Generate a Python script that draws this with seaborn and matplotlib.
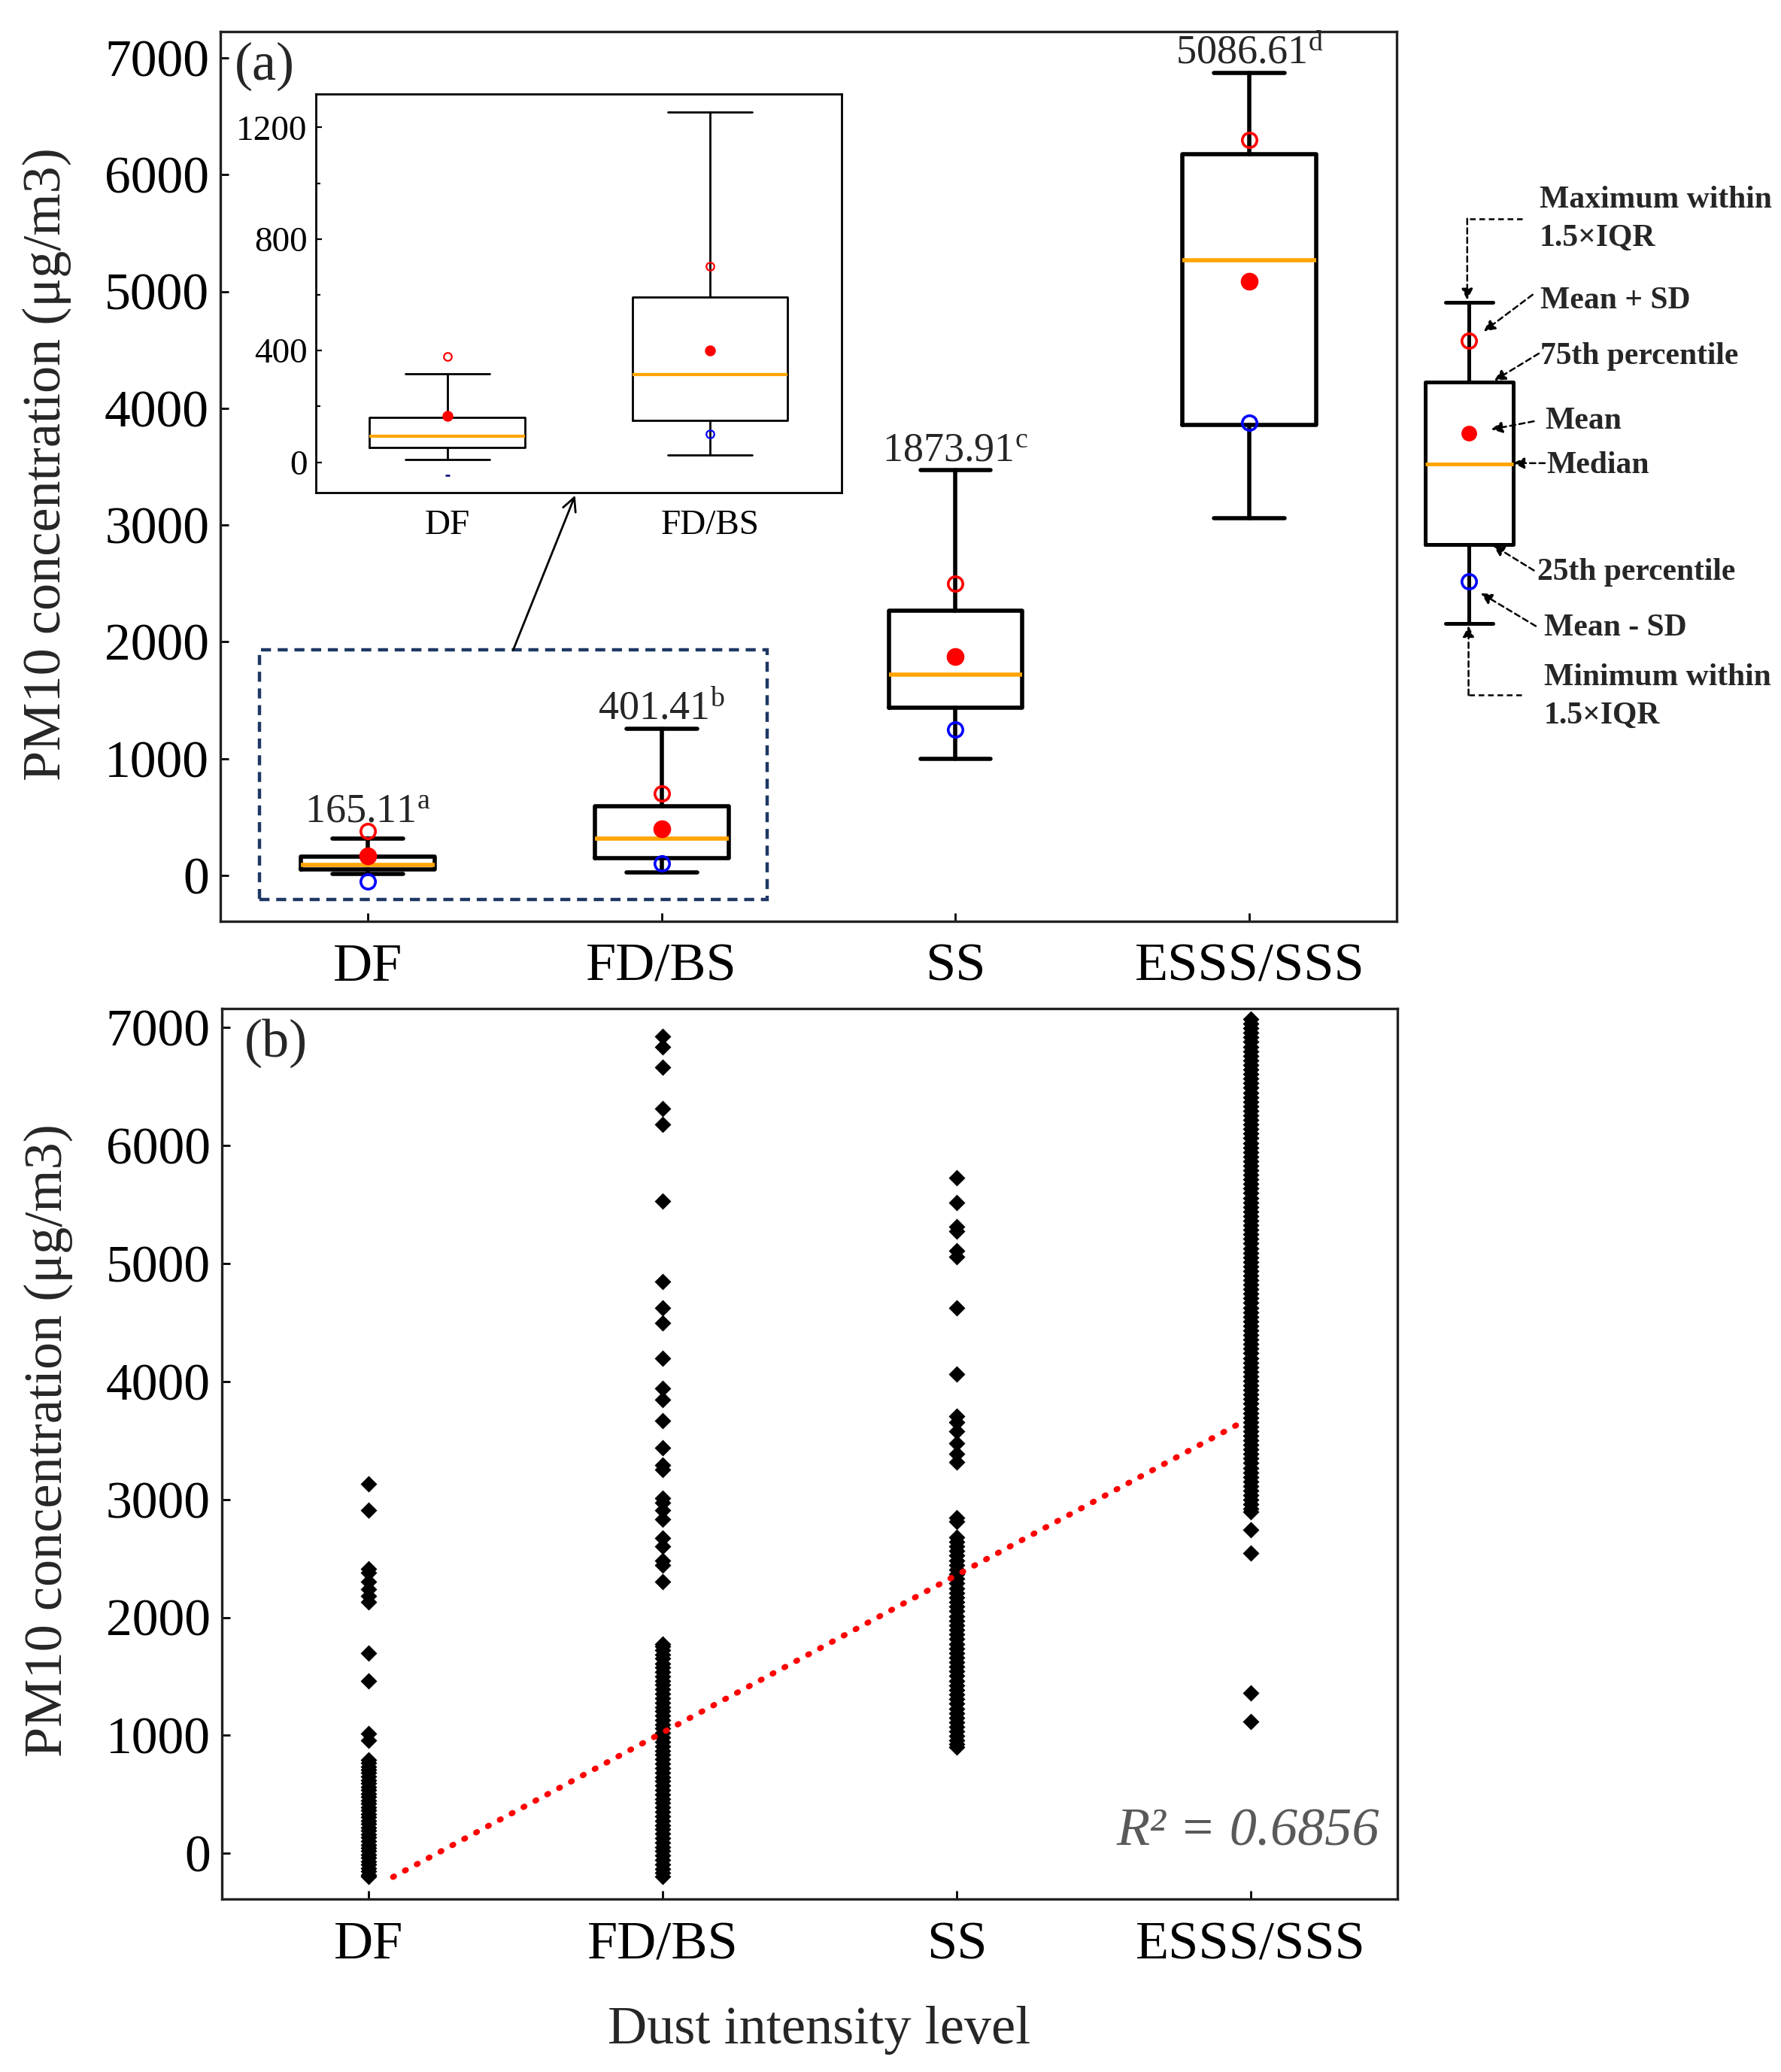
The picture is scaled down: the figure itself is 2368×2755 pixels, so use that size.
import matplotlib
matplotlib.use("Agg")
import matplotlib.pyplot as plt
from matplotlib.patches import Rectangle
import numpy as np
import pandas as pd
import seaborn as sns

# ---------------- data ----------------
categories = ["DF", "FD/BS", "SS", "ESSS/SSS"]
mean_vals = [165.11, 401.41, 1873.91, 5086.61]
mean_text = ["165.11", "401.41", "1873.91", "5086.61"]
sig_letters = ["a", "b", "c", "d"]
whis_lo = [10, 26, 1000, 3057]
q1_vals = [53, 148, 1435, 3858]
median_vals = [90, 315, 1722, 5265]
q3_vals = [160, 592, 2268, 6175]
whis_hi = [318, 1256, 3474, 6873]
sd_vals = [215, 300, 625, 1210]

df_points = [3133, 2909, 2411, 2377, 2304, 2240, 2182, 2133, 1698, 1462, 1017, 957,
             791, 766, 737, 709, 681, 650, 622, 594, 563, 537, 506, 478, 450, 421,
             390, 364, 333, 306, 275, 249, 218, 190, 161, 133, 104, 75, 47, 18,
             -10, -39, -67, -96, -124, -153, -181, -195]
fdbs_points = [6926, 6838, 6662, 6316, 6179, 5530, 4846, 4622, 4495, 4197, 3944,
               3846, 3670, 3436, 3290, 3255, 3011, 2972, 2909, 2831, 2675, 2606,
               2484, 2445, 2304,
               1777, 1758, 1722, 1684, 1650, 1611, 1574, 1538, 1501, 1463, 1427,
               1390, 1352, 1316, 1279, 1241, 1204, 1168, 1130, 1093, 1057, 1019,
               982, 946, 908, 871, 834, 797, 760, 722, 686, 648, 611, 575, 537,
               500, 463, 426, 389, 351, 315, 277, 240, 204, 166, 129, 92, 55, 18,
               -19, -56, -93, -130, -167, -195]
ss_points = [5730, 5520, 5315, 5276, 5110, 5061, 4622, 4061, 3704, 3656, 3582, 3475,
             3387, 3319, 2845, 2811,
             2679, 2641, 2603, 2562, 2524, 2484, 2446, 2405, 2367, 2327, 2288,
             2248, 2210, 2170, 2131, 2091, 2053, 2012, 1974, 1934, 1895, 1856,
             1817, 1777, 1739, 1699, 1660, 1621, 1582, 1542, 1504, 1464, 1425,
             1386, 1347, 1307, 1269, 1229, 1190, 1151, 1112, 1072, 1034, 995,
             956, 925, 898]
esss_points = [7072, 7034, 6995, 6957, 6917, 6879, 6840, 6801, 6762, 6723, 6684,
               6646, 6606, 6568, 6529, 6490, 6451, 6412, 6373, 6335, 6296, 6257,
               6218, 6179, 6141, 6101, 6063, 6024, 5985, 5946, 5907, 5869, 5830,
               5791, 5752, 5713, 5675, 5636, 5597, 5558, 5519, 5481, 5442, 5403,
               5364, 5325, 5287, 5248, 5209, 5170, 5131, 5093, 5054, 5015, 4976,
               4937, 4899, 4860, 4821, 4782, 4743, 4705, 4666, 4627, 4588, 4549,
               4511, 4472, 4433, 4394, 4355, 4317, 4278, 4239, 4200, 4161, 4123,
               4084, 4045, 4006, 3967, 3929, 3890, 3851, 3812, 3773, 3735, 3696,
               3657, 3618, 3579, 3541, 3502, 3463, 3424, 3385, 3347, 3308, 3269,
               3230, 3191, 3153, 3114, 3075, 3036, 2997, 2959, 2920, 2899,
               2743, 2548, 1362, 1118]

# inset (zoom of DF and FD/BS)
inset_categories = ["DF", "FD/BS"]
inset_whis_lo = [11, 26]
inset_q1 = [54, 150]
inset_median = [92, 314]
inset_q3 = [161, 591]
inset_whis_hi = [318, 1254]
inset_means = [165.11, 401.41]
inset_sd = [213, 301]

# linear trend of panel (b)
trend_intercept = -310
trend_slope = 1335
trend_x = [0.082, 2.97]
r_squared_text = "R\u00b2 = 0.6856"

# legend key (schematic) labels
key_labels = ["Maximum within\n1.5\u00d7IQR", "Mean + SD", "75th percentile", "Mean",
              "Median", "25th percentile", "Mean - SD", "Minimum within\n1.5\u00d7IQR"]

ylabel_text = "PM10 concentration (\u03bcg/m3)"

# ---------------- style ----------------
sns.set_theme(style="ticks")
plt.rcParams["font.family"] = ["Liberation Serif", "DejaVu Serif"]
plt.rcParams["mathtext.fontset"] = "custom"
plt.rcParams["mathtext.rm"] = "Liberation Serif"
plt.rcParams["mathtext.it"] = "Liberation Serif:italic"
plt.rcParams["mathtext.bf"] = "Liberation Serif:bold"
plt.rcParams["axes.edgecolor"] = "#222222"
plt.rcParams["axes.linewidth"] = 1.2
plt.rcParams["xtick.color"] = "black"
plt.rcParams["ytick.color"] = "black"

FS = 25
FSX = 26
ORANGE = "#FFA500"

fig = plt.figure(figsize=(2368 / 200, 2755 / 200), dpi=200)
fig.patch.set_facecolor("white")

ax1 = fig.add_axes([0.1239, 0.5555, 0.6602, 0.4292])
ax2 = fig.add_axes([0.1246, 0.0835, 0.6602, 0.4299])


def style_axis(ax):
    ax.tick_params(axis="both", which="both", direction="in", length=4, width=1.0,
                   top=False, right=False)
    ax.tick_params(axis="y", pad=5.5, labelsize=FS)
    ax.tick_params(axis="x", pad=10.5, labelsize=FSX)
    for s in ax.spines.values():
        s.set_visible(True)
        s.set_linewidth(1.2)
        s.set_color("#222222")


# ---------------- panel (a): box plots ----------------
stats = []
for i, c in enumerate(categories):
    stats.append(dict(label=c, whislo=whis_lo[i], q1=q1_vals[i], med=median_vals[i],
                      q3=q3_vals[i], whishi=whis_hi[i], fliers=[]))
pos = np.arange(len(categories))
ax1.bxp(stats, positions=pos, widths=0.455, capwidths=0.24, showfliers=False,
        manage_ticks=False,
        boxprops=dict(color="black", linewidth=2.0),
        whiskerprops=dict(color="black", linewidth=2.0),
        capprops=dict(color="black", linewidth=2.0),
        medianprops=dict(color=ORANGE, linewidth=2.0))
means = np.array(mean_vals)
sds = np.array(sd_vals)
ax1.plot(pos, means + sds, linestyle="none", marker="o", ms=7, mfc="none",
         mec="red", mew=1.3, zorder=5)
ax1.plot(pos, means - sds, linestyle="none", marker="o", ms=7, mfc="none",
         mec="blue", mew=1.3, zorder=5)
ax1.plot(pos, means, linestyle="none", marker="o", ms=7.5, color="red", zorder=6)

for i in range(len(categories)):
    top = max(whis_hi[i], mean_vals[i] + sd_vals[i])
    ax1.annotate(mean_text[i] + r"$^{\mathrm{" + sig_letters[i] + "}}$",
                 xy=(pos[i], top), xytext=(0, 4.5), textcoords="offset points",
                 ha="center", va="baseline", fontsize=19.5)

ax1.set_xlim(-0.5, 3.5)
ax1.set_ylim(-390, 7225)
ax1.set_yticks(np.arange(0, 7001, 1000))
ax1.set_xticks(pos)
ax1.set_xticklabels(categories)
style_axis(ax1)
ax1.set_ylabel(ylabel_text, fontsize=26)
ax1.yaxis.set_label_coords(-0.127, 0.514)
ax1.text(0.012, 0.961, "(a)", transform=ax1.transAxes, fontsize=FSX,
         ha="left", va="center")

# dashed zoom window and connector arrow
ax1.add_patch(Rectangle((-0.367, -205), 1.727, 2135, fill=False, linestyle=(0, (3, 2)),
                        edgecolor="#1F3864", linewidth=1.6, zorder=7))
ax1.annotate("", xy=(0.706, 3255), xytext=(0.495, 1930),
             arrowprops=dict(arrowstyle="->", color="black", lw=1.0,
                             shrinkA=0, shrinkB=0, mutation_scale=16), zorder=8)

# ---------------- inset ----------------
axin = fig.add_axes([0.1773, 0.7621, 0.2952, 0.1926])
istats = []
for i, c in enumerate(inset_categories):
    istats.append(dict(label=c, whislo=inset_whis_lo[i], q1=inset_q1[i],
                       med=inset_median[i], q3=inset_q3[i], whishi=inset_whis_hi[i],
                       fliers=[]))
ipos = np.arange(len(inset_categories))
axin.bxp(istats, positions=ipos, widths=0.59, capwidths=0.32, showfliers=False,
         manage_ticks=False,
         boxprops=dict(color="black", linewidth=1.0),
         whiskerprops=dict(color="black", linewidth=1.0),
         capprops=dict(color="black", linewidth=1.0),
         medianprops=dict(color=ORANGE, linewidth=1.5))
im = np.array(inset_means)
isd = np.array(inset_sd)
axin.plot(ipos, im + isd, linestyle="none", marker="o", ms=3.8, mfc="none",
          mec="red", mew=0.8, zorder=5)
# lower marks: DF's appears only as a tiny dash in the reference
axin.plot(ipos[:1], (im - isd)[:1], linestyle="none", marker="_", ms=2.5,
          mec="#000080", mew=0.9, zorder=5)
axin.plot(ipos[1:], (im - isd)[1:], linestyle="none", marker="o", ms=3.8, mfc="none",
          mec="blue", mew=0.8, zorder=5)
axin.plot(ipos, im, linestyle="none", marker="o", ms=4.2, color="red", zorder=6)
axin.set_xlim(-0.5, 1.5)
axin.set_ylim(-110, 1320)
axin.set_yticks([0, 400, 800, 1200])
axin.set_yticks([200, 600, 1000], minor=True)
axin.set_xticks(ipos)
axin.set_xticklabels(inset_categories)
axin.tick_params(axis="both", which="both", direction="in", labelsize=17,
                 top=False, right=False, width=0.8)
axin.tick_params(axis="y", which="major", length=3, pad=4)
axin.tick_params(axis="y", which="minor", length=2)
axin.tick_params(axis="x", length=0, pad=8)
for s in axin.spines.values():
    s.set_visible(True)
    s.set_linewidth(1.0)
    s.set_color("black")
axin.set_facecolor("white")

# ---------------- panel (b): scatter ----------------
long = pd.DataFrame({
    "level": (["DF"] * len(df_points) + ["FD/BS"] * len(fdbs_points)
              + ["SS"] * len(ss_points) + ["ESSS/SSS"] * len(esss_points)),
    "pm10": df_points + fdbs_points + ss_points + esss_points,
})
sns.stripplot(data=long, x="level", y="pm10", order=categories, jitter=False,
              marker="D", color="black", size=5.6, linewidth=0, ax=ax2, zorder=3)
tx = np.array(trend_x)
ax2.plot(tx, trend_intercept + trend_slope * tx, color="red", linewidth=2.8,
         linestyle=(0, (0.2, 2.1)), dash_capstyle="round", zorder=4)
ax2.set_xlim(-0.5, 3.5)
ax2.set_ylim(-387, 7165)
ax2.set_yticks(np.arange(0, 7001, 1000))
ax2.set_xticks(pos)
ax2.set_xticklabels(categories)
style_axis(ax2)
ax2.set_ylabel(ylabel_text, fontsize=26)
ax2.yaxis.set_label_coords(-0.127, 0.515)
ax2.set_xlabel("Dust intensity level", fontsize=26)
ax2.xaxis.set_label_coords(0.508, -0.12)
ax2.text(0.019, 0.961, "(b)", transform=ax2.transAxes, fontsize=FSX,
         ha="left", va="center")
ax2.text(0.984, 0.075, r_squared_text, transform=ax2.transAxes, fontsize=26,
         style="italic", color="#595959", ha="right", va="center")

# ---------------- legend key (schematic) ----------------
kax = fig.add_axes([0, 0, 1, 1])
kax.set_xlim(0, 1348)
kax.set_ylim(1568, 0)
kax.axis("off")
kx = 1112
key_stats = [dict(label="", whislo=472, q1=412, med=351, q3=289, whishi=229, fliers=[])]
kax.bxp(key_stats, positions=[kx], widths=67, capwidths=36, showfliers=False,
        manage_ticks=False,
        boxprops=dict(color="black", linewidth=1.8),
        whiskerprops=dict(color="black", linewidth=1.8),
        capprops=dict(color="black", linewidth=1.8),
        medianprops=dict(color=ORANGE, linewidth=1.8))
kax.plot([kx], [258], marker="o", ms=7, mfc="none", mec="red", mew=1.3)
kax.plot([kx], [440], marker="o", ms=7, mfc="none", mec="blue", mew=1.3)
kax.plot([kx], [328], marker="o", ms=6.5, color="red")

key_text_pos = [(1165, 166), (1165.6, 227.6), (1165.6, 269.8), (1169.3, 318.8),
                (1170.7, 352.3), (1163.3, 433), (1168.4, 475.2), (1168.4, 527.3)]
for lab, (tx_, ty_) in zip(key_labels, key_text_pos):
    kax.text(tx_, ty_, lab, fontsize=15, fontweight="bold", ha="left", va="center",
             linespacing=1.45)

arrow_kw = dict(arrowstyle="-|>", color="black", lw=0.9, linestyle=(0, (3, 2)),
                shrinkA=0, shrinkB=0, mutation_scale=11)
key_arrows = [((1160, 223), (1123, 250.8)), ((1164.7, 267.5), (1131, 288)),
              ((1161, 318.8), (1128.6, 325)), ((1169.3, 350.5), (1145.3, 350.5)),
              ((1161, 431.7), (1130, 412.6)), ((1162.4, 473.8), (1120.8, 448.9))]
for (a, b) in key_arrows:
    kax.annotate("", xy=b, xytext=a, arrowprops=arrow_kw)
# max / min connectors
kax.plot([1152, 1110.5], [165.5, 165.5], color="black", lw=0.9, linestyle=(0, (3, 2)))
kax.annotate("", xy=(1110.5, 227), xytext=(1110.5, 165.5), arrowprops=arrow_kw)
kax.plot([1111.5, 1154.5], [526, 526], color="black", lw=0.9, linestyle=(0, (3, 2)))
kax.annotate("", xy=(1111.5, 473.5), xytext=(1111.5, 526), arrowprops=arrow_kw)

fig.savefig("out.png", dpi=200, facecolor="white")
